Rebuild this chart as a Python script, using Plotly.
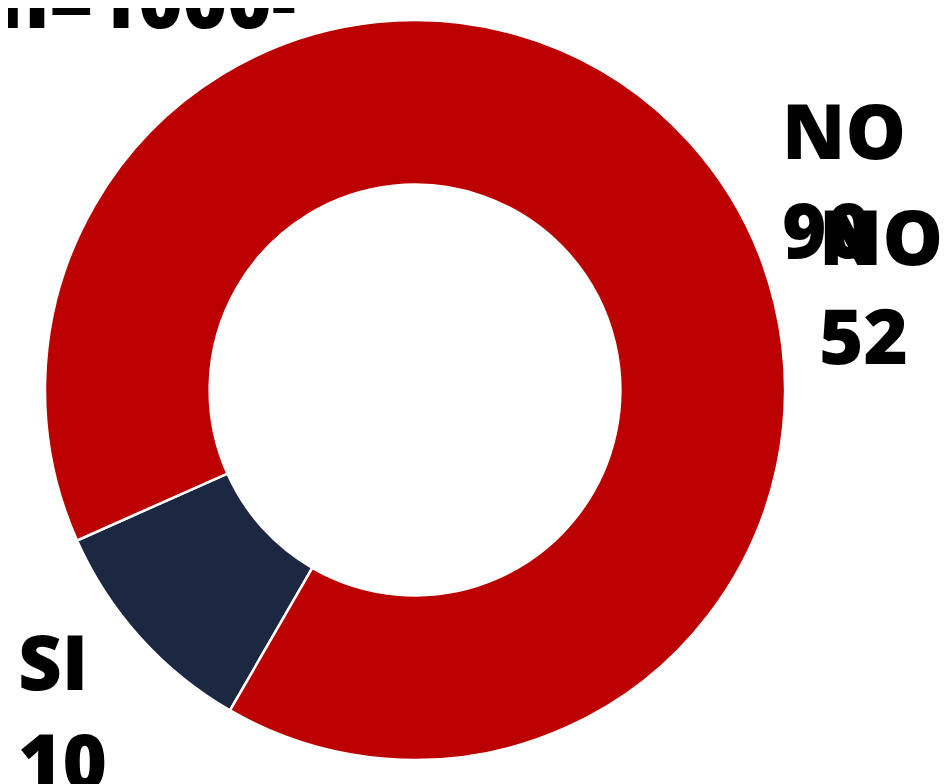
import plotly.graph_objects as go

labels = ["SI", "NO"]
values = [10, 90]
colors = ["#1C2841", "#BC0000"]

title_text = "-n=1000-"
label_texts = ["NO<br>90", "NO<br>52", "SI<br>10"]

W, H = 948, 784
cx, cy, r = 407, 382, 370

fig = go.Figure()
fig.add_trace(go.Pie(
    labels=labels,
    values=values,
    hole=0.555,
    sort=False,
    direction="clockwise",
    rotation=210,
    marker=dict(colors=colors, line=dict(color="white", width=2.5)),
    textinfo="none",
    hoverinfo="label+value",
    showlegend=False,
    domain=dict(x=[(cx - r) / W, (cx + r) / W], y=[1 - (cy + r) / H, 1 - (cy - r) / H]),
))

font = dict(family="Open Sans, Lato, Noto Sans, sans-serif", size=76, color="black", weight=800)

# label positions (paper px: left x, middle y)
pos = [(772, 171), (809, 277), (8, 702)]
for t, (px, py) in zip(label_texts, pos):
    fig.add_annotation(text=t, x=px / W, y=1 - py / H, xref="paper", yref="paper",
                       xanchor="left", yanchor="middle", align="left",
                       showarrow=False, font=font)

fig.add_annotation(text=title_text, x=127 / W, y=1 + 9 / H, xref="paper", yref="paper",
                   xanchor="center", yanchor="middle", showarrow=False, font=font)

fig.update_layout(
    width=W, height=H,
    margin=dict(l=0, r=0, t=0, b=0),
    paper_bgcolor="white",
    plot_bgcolor="white",
)

fig.write_html("out.html")
